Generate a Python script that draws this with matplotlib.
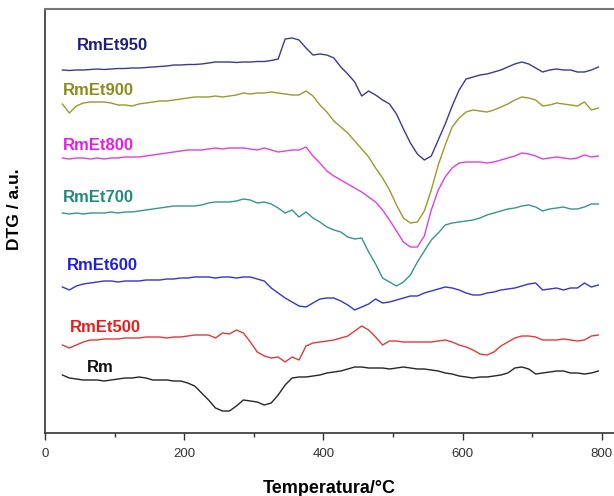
import matplotlib
matplotlib.use("Agg")
import matplotlib.pyplot as plt
from matplotlib.ticker import MultipleLocator

plt.rcParams["font.family"] = ["Liberation Sans", "DejaVu Sans"]

# temperature grid (°C)
temp_c = list(range(25, 800, 10))

# stacked DTG traces, a.u. (larger value = lower on the plot)
rmet950 = [70, 70.5, 70, 70, 69.5, 69, 69.5, 69, 68.5, 68.5,
           68, 68, 67.5, 67, 66.5, 66, 65, 65, 64.5, 64.5,
           64, 63, 62, 62, 62, 62.5, 62, 62, 61.5, 61.5,
           60.5, 59, 39, 38, 40, 48, 55, 54, 55, 58,
           67, 74, 82, 96, 91, 95, 100, 104, 114, 129,
           143, 154, 160, 156, 140, 124, 106, 90, 79, 77,
           75, 74, 72, 70, 67, 64, 62, 64, 68, 72,
           70, 69, 70, 70, 72, 72, 70, 67]
rmet900 = [104, 113, 106, 103, 102, 102, 102, 103, 105, 105,
           106, 104, 103, 102, 101, 101, 100, 99, 98, 97,
           97, 97, 96, 97, 96, 95, 93, 94, 93, 93,
           92, 93, 94, 95, 95, 91, 96, 105, 112, 121,
           127, 133, 141, 149, 157, 168, 178, 190, 205, 218,
           223, 222, 211, 190, 165, 145, 127, 118, 112, 110,
           111, 112, 110, 107, 104, 100, 97, 98, 100, 106,
           105, 103, 104, 105, 106, 102, 110, 108]
rmet800 = [158, 159, 158, 158, 159, 158, 159, 158, 158, 157,
           157, 157, 156, 155, 154, 153, 152, 151, 150, 150,
           150, 149, 148, 149, 148, 148, 148, 149, 150, 148,
           150, 152, 151, 150, 150, 147, 156, 163, 171, 176,
           180, 184, 188, 192, 197, 202, 210, 220, 231, 242,
           247, 247, 236, 210, 190, 177, 168, 163, 162, 162,
           162, 163, 162, 160, 158, 156, 153, 154, 156, 159,
           158, 157, 158, 159, 158, 155, 157, 156]
rmet700 = [213, 214, 213, 214, 213, 213, 213, 212, 213, 212,
           212, 211, 210, 209, 208, 207, 206, 206, 206, 206,
           205, 203, 202, 202, 202, 201, 199, 200, 203, 202,
           204, 208, 213, 210, 217, 212, 218, 222, 227, 230,
           232, 237, 239, 238, 252, 264, 278, 282, 286, 282,
           275, 262, 251, 240, 233, 225, 223, 222, 221, 220,
           218, 215, 213, 211, 209, 208, 206, 205, 207, 211,
           209, 208, 207, 209, 209, 207, 204, 204]
rmet600 = [287, 290, 286, 284, 283, 282, 281, 281, 282, 281,
           281, 281, 280, 280, 280, 279, 279, 278, 278, 277,
           277, 277, 278, 277, 277, 278, 277, 277, 279, 281,
           288, 293, 298, 302, 306, 307, 303, 299, 298, 298,
           301, 305, 310, 307, 304, 299, 303, 302, 300, 298,
           296, 296, 293, 291, 289, 287, 288, 290, 293, 295,
           295, 293, 292, 290, 289, 288, 286, 284, 283, 290,
           289, 288, 290, 288, 288, 283, 287, 285]
rmet500 = [345, 348, 345, 342, 340, 340, 339, 339, 339, 338,
           338, 338, 337, 337, 337, 338, 337, 337, 336, 335,
           335, 335, 338, 333, 334, 330, 333, 342, 352, 356,
           358, 357, 362, 357, 360, 346, 343, 342, 341, 340,
           338, 336, 331, 326, 330, 337, 345, 341, 341, 342,
           342, 342, 342, 342, 341, 340, 342, 345, 347, 350,
           354, 355, 352, 346, 342, 338, 336, 336, 337, 340,
           340, 340, 339, 340, 341, 340, 336, 335]
rm = [375, 378, 379, 380, 380, 380, 381, 380, 379, 378,
      378, 377, 378, 380, 380, 380, 381, 381, 383, 386,
      393, 400, 408, 411, 411, 406, 400, 401, 402, 405,
      403, 395, 385, 378, 377, 377, 376, 375, 373, 372,
      371, 369, 367, 367, 368, 368, 368, 369, 368, 367,
      368, 369, 369, 370, 371, 373, 374, 376, 377, 378,
      377, 377, 376, 375, 373, 368, 367, 369, 374, 373,
      372, 371, 371, 373, 373, 374, 373, 371]

series_names = ["RmEt950", "RmEt900", "RmEt800", "RmEt700", "RmEt600", "RmEt500", "Rm"]
series_data = [rmet950, rmet900, rmet800, rmet700, rmet600, rmet500, rm]
line_colors = ["#3b3b8c", "#9a9a2c", "#e03fe0", "#36958d", "#3434d2", "#e03a3a", "#262626"]
text_colors = ["#1e1e80", "#8c8c1c", "#e41ee4", "#1e8a80", "#1e1ee6", "#e41e1e", "#111111"]
# where each name sits (temperature, baseline level)
label_pos = [(46, 50), (26, 95), (25, 150), (25, 202), (31, 270), (36, 332), (60, 372)]

fig = plt.figure(figsize=(6.14, 4.96), dpi=100)
ax = fig.add_axes([45 / 614, 1 - 433 / 496, 1 - 45 / 614, 424 / 496])

for name, ys, lc, tc, (tx, ty) in zip(series_names, series_data, line_colors, text_colors, label_pos):
    ax.plot(temp_c, ys, color=lc, lw=1.0)
    ax.text(tx, ty, name, color=tc, fontsize=12, fontweight="bold", ha="left", va="baseline")

ax.set_xlim(0, 817.5)
ax.set_ylim(433, 9)
ax.xaxis.set_major_locator(MultipleLocator(200))
ax.xaxis.set_minor_locator(MultipleLocator(100))
ax.set_yticks([])
ax.tick_params(axis="x", which="major", direction="out", length=5, width=1, labelsize=9.5,
               colors="#333333", pad=6)
ax.tick_params(axis="x", which="minor", direction="out", length=3, width=1, colors="#333333")
for side in ("left", "bottom"):
    ax.spines[side].set_color("#333333")
    ax.spines[side].set_linewidth(1.2)
ax.spines["top"].set_color("#777777")
ax.spines["top"].set_linewidth(1.5)
ax.spines["right"].set_visible(False)

ax.set_xlabel("Temperatura/°C", fontsize=13, fontweight="bold", labelpad=14)
fig.text(15 / 614, 1 - 209 / 496, "DTG / a.u.", rotation=90, fontsize=12.5, fontweight="bold",
         ha="center", va="center")

fig.savefig("out.png", dpi=100, facecolor="white")
